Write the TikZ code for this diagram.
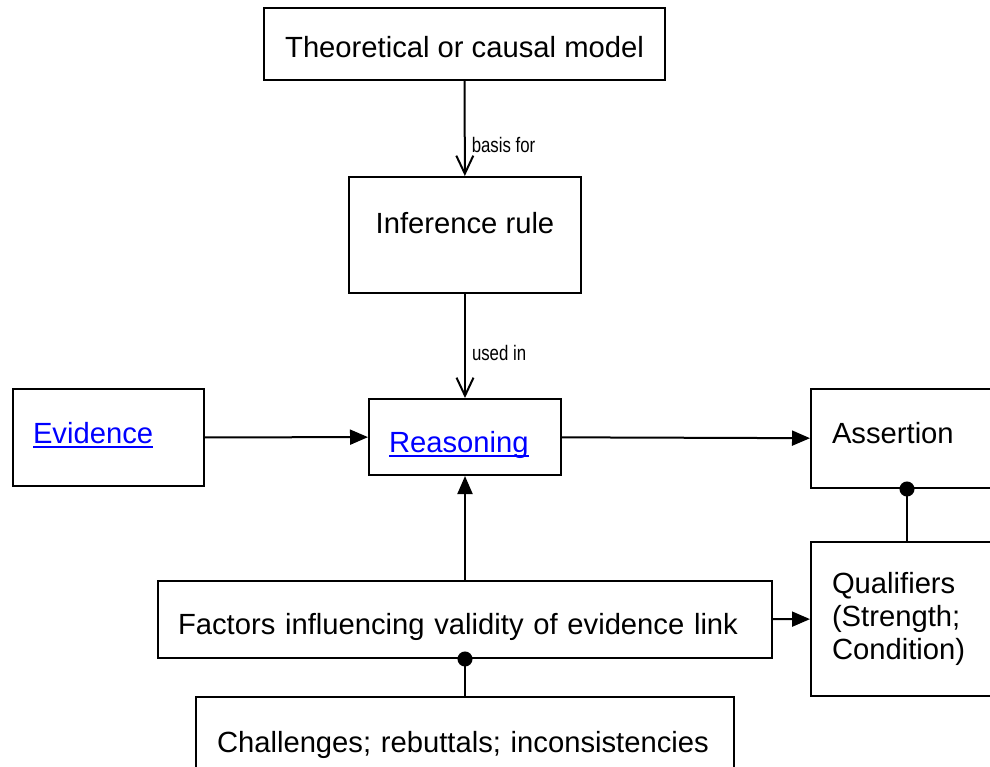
\documentclass[tikz,border=0pt]{standalone}
\usepackage{fontspec}
\setmainfont{Liberation Sans}
\newfontfamily\narrowfont[FakeStretch=0.8]{Liberation Sans}
\usepackage{xcolor}
\usetikzlibrary{arrows.meta}
\newcommand{\hlink}[1]{\textcolor{blue}{\setbox0\hbox{#1}\rlap{\rule[-5pt]{\wd0}{2pt}}\box0}}
\tikzset{
  box/.style={draw, line width=2pt, inner sep=0pt, font=\fontsize{29.2}{33}\selectfont},
  lbox/.style={box, align=left, inner xsep=20pt},
  lbl/.style={font=\narrowfont\fontsize{21}{23}\selectfont, inner sep=0pt, anchor=base west, xshift=6pt},
  dot/.style={-{Circle[length=15pt]}, shorten >=-7.5pt},
}

\begin{document}
\begin{tikzpicture}[x=1pt,y=-1pt,line width=2pt,>={Triangle[length=18pt,width=15pt]}]
\useasboundingbox (0,0) rectangle (990,766);
\clip (0,0) rectangle (990,766);
\node[box, minimum width=401pt, minimum height=72pt, text height=27pt, text depth=0pt] (T) at (464.5,44) {Theoretical or causal model};
\node[box, minimum width=232pt, minimum height=116pt, text height=21pt, text depth=25pt] (I) at (465,235) {Inference rule};
\node[lbox, text width=151pt, minimum height=97pt, text height=21pt, text depth=10pt] (E) at (108.5,437.5) {\hlink{Evidence}};
\node[lbox, text width=152pt, minimum height=76pt, text height=30pt, text depth=0pt] (R) at (465,437) {\hlink{Reasoning}};
\node[lbox, inner xsep=21pt, text width=150pt, minimum height=99pt, text height=21pt, text depth=12pt] (A) at (907,438.5) {Assertion};
\node[lbox, text width=574pt, minimum height=77pt, text height=29pt, text depth=0pt] (F) at (465,619.5) {Factors influencing validity of evidence link};
\node[lbox, inner xsep=21pt, text width=150pt, minimum height=154pt] (Q) at (907,619) {Qualifiers\\(Strength;\\Condition)};
\node[lbox, inner xsep=21pt, text width=496pt, minimum height=90pt, text height=21pt, text depth=1pt] (C) at (465,742) {Challenges; rebuttals; inconsistencies};
\path[-{Straight Barb[length=18pt,width=17pt]}]
(T) edge node[lbl,pos=0.75]{basis for} (I)
(I) edge node[lbl,pos=0.64]{used in} (R);
\path[->]
(E) edge (R)
(R) edge (A)
(F) edge (R)
(F) edge (Q);
\path
(Q) edge[dot] (A)
(C) edge[dot] (F);
\end{tikzpicture}
\end{document}
